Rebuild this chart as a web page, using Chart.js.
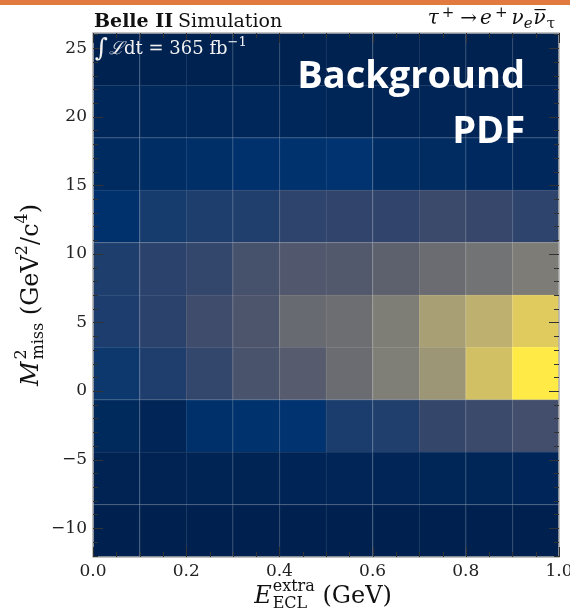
<!DOCTYPE html>
<html><head><meta charset="utf-8">
<script src="https://cdn.jsdelivr.net/npm/chart.js@4"></script>
<style>html,body{margin:0;padding:0;background:#fff;} canvas{display:block}</style>
</head><body><canvas id="c" width="570" height="611"></canvas>
<script>
// ---- data ----
const xBinEdges = [0.0, 0.1, 0.2, 0.3, 0.4, 0.5, 0.6, 0.7, 0.8, 0.9, 1.0];
const yBinEdges = [-12.1, -8.28, -4.46, -0.64, 3.18, 7.0, 10.82, 14.64, 18.46, 22.28, 26.1];
const xTickValues = [0.0, 0.2, 0.4, 0.6, 0.8, 1.0];
const yTickValues = [-10, -5, 0, 5, 10, 15, 20, 25];
// normalised background density, one array per M2miss bin (bottom to top), one value per E_ECL bin
const row0 = [0.005, 0.005, 0.006, 0.006, 0.006, 0.007, 0.007, 0.008, 0.008, 0.008];
const row1 = [0.020, 0.020, 0.022, 0.024, 0.025, 0.028, 0.030, 0.034, 0.036, 0.038];
const row2 = [0.050, 0.030, 0.095, 0.105, 0.110, 0.164, 0.173, 0.214, 0.230, 0.256];
const row3 = [0.135, 0.171, 0.210, 0.285, 0.330, 0.418, 0.510, 0.630, 0.825, 1.000];
const row4 = [0.165, 0.193, 0.244, 0.295, 0.410, 0.430, 0.505, 0.675, 0.755, 0.870];
const row5 = [0.170, 0.195, 0.210, 0.270, 0.310, 0.315, 0.360, 0.420, 0.455, 0.500];
const row6 = [0.100, 0.154, 0.170, 0.175, 0.200, 0.206, 0.206, 0.230, 0.216, 0.200];
const row7 = [0.062, 0.075, 0.088, 0.100, 0.105, 0.110, 0.075, 0.068, 0.059, 0.049];
const row8 = [0.040, 0.045, 0.042, 0.040, 0.042, 0.035, 0.030, 0.030, 0.028, 0.025];
const row9 = [0.012, 0.012, 0.012, 0.012, 0.012, 0.012, 0.010, 0.010, 0.010, 0.010];
const rows = [row0, row1, row2, row3, row4, row5, row6, row7, row8, row9];
const xBinLabels = xBinEdges.slice(0, -1).map((e, i) => e.toFixed(1) + '-' + xBinEdges[i + 1].toFixed(1));

// ---- colour map (cividis) ----
const cividisStops = ['#00204D','#00336F','#39486B','#575C6D','#707173','#8A8779','#A69D75','#C4B56C','#E4CF5B','#FFEA46'];
function hex2rgb(h){ return [parseInt(h.slice(1,3),16), parseInt(h.slice(3,5),16), parseInt(h.slice(5,7),16)]; }
function cmapRGB(v){
  v = Math.max(0, Math.min(1, v));
  const t = v * (cividisStops.length - 1);
  const i = Math.min(cividisStops.length - 2, Math.floor(t));
  const f = t - i;
  const a = hex2rgb(cividisStops[i]), b = hex2rgb(cividisStops[i + 1]);
  return a.map((c, k) => Math.round(c + (b[k] - c) * f));
}
function rgbStr(c){ return 'rgb(' + c.join(',') + ')'; }
function cmap(v){ return rgbStr(cmapRGB(v)); }
function edge(v){ return rgbStr(cmapRGB(v).map(c => Math.round(c + (255 - c) * 0.12))); }

const datasets = rows.map((vals, r) => ({
  label: 'M2 bin ' + r,
  data: vals.map(() => [yBinEdges[r], yBinEdges[r + 1]]),
  backgroundColor: vals.map(cmap),
  borderColor: vals.map(edge),
  borderWidth: {top: 1, left: 1, right: 0, bottom: 0},
  borderSkipped: false,
  grouped: false,
  barPercentage: 1,
  categoryPercentage: 1,
  xAxisID: 'x',
  yAxisID: 'y'
}));

const SERIF = '"DejaVu Serif", serif';

function drawScript(ctx, parts, x, y, align) {
  let w = 0;
  const widths = parts.map(p => {
    ctx.font = (p.style || '') + ' ' + p.size + 'px ' + SERIF;
    const m = ctx.measureText(p.t).width + (p.gap || 0);
    w += m; return m;
  });
  let cx = align === 'center' ? x - w / 2 : (align === 'right' ? x - w : x);
  parts.forEach((p, i) => {
    ctx.font = (p.style || '') + ' ' + p.size + 'px ' + SERIF;
    ctx.fillText(p.t, cx, y + (p.dy || 0));
    if (p.overline) {
      const ow = ctx.measureText(p.t).width;
      ctx.fillRect(cx + 1, y - p.size * 0.75, ow - 1, 1.2);
    }
    cx += widths[i];
  });
  return w;
}

const decor = {
  id: 'decor',
  afterDatasetsDraw(chart) {
    const ctx = chart.ctx;
    const {left, right, top, bottom} = chart.chartArea;
    const xs = chart.scales.xv, ys = chart.scales.y;
    ctx.save();
    ctx.fillStyle = '#E07A3E';
    ctx.fillRect(0, 0, chart.width, 5);
    ctx.strokeStyle = '#AFAFAF';
    ctx.lineWidth = 1.5;
    ctx.strokeRect(left, top, right - left, bottom - top);
    ctx.strokeStyle = '#333';
    ctx.lineWidth = 1;
    for (let k = 0; k <= 20; k++) {
      const v = k * 0.05;
      const px = Math.round(xs.getPixelForValue(v)) + 0.5;
      const len = (k % 4 === 0) ? 10 : 5;
      ctx.beginPath();
      ctx.moveTo(px, bottom); ctx.lineTo(px, bottom - len);
      ctx.moveTo(px, top); ctx.lineTo(px, top + len);
      ctx.stroke();
    }
    for (let v = -12; v <= 26; v++) {
      const py = Math.round(ys.getPixelForValue(v)) + 0.5;
      const len = (v % 5 === 0) ? 10 : 5;
      ctx.beginPath();
      ctx.moveTo(left, py); ctx.lineTo(left + len, py);
      ctx.moveTo(right, py); ctx.lineTo(right - len, py);
      ctx.stroke();
    }
    ctx.fillStyle = '#111';
    ctx.textBaseline = 'alphabetic';
    drawScript(ctx, [
      {t: 'Belle II', size: 19, style: 'bold', gap: 5},
      {t: 'Simulation', size: 19}
    ], left + 1, 27, 'left');
    drawScript(ctx, [
      {t: 'τ', size: 20, style: 'italic', gap: 3},
      {t: '+', size: 15, dy: -7, gap: 6},
      {t: '→', size: 20, gap: 3},
      {t: 'e', size: 20, style: 'italic', gap: 3},
      {t: '+', size: 15, dy: -7, gap: 4},
      {t: 'ν', size: 20, style: 'italic'},
      {t: 'e', size: 15, style: 'italic', dy: 4, gap: 1},
      {t: 'ν', size: 20, style: 'italic', overline: true, gap: 1},
      {t: 'τ', size: 15, dy: 4}
    ], right - 4, 24, 'right');
    ctx.fillStyle = '#F2F2F2';
    drawScript(ctx, [
      {t: '∫', size: 25, dy: 2, gap: 1},
      {t: 'ℒ', size: 18, style: 'italic'},
      {t: 'dt = 365 fb', size: 18},
      {t: '−1', size: 13, dy: -8}
    ], left + 2, 54, 'left');
    ctx.fillStyle = '#FFFFFF';
    ctx.textAlign = 'right';
    ctx.font = 'bold 38px "Open Sans", sans-serif';
    ctx.fillText('Background', 525, 88);
    ctx.fillText('PDF', 525, 143);
    ctx.textAlign = 'left';
    // x axis title
    ctx.fillStyle = '#111';
    const xc = (left + right) / 2;
    ctx.font = 'italic 24px ' + SERIF;
    const wE = ctx.measureText('E').width;
    ctx.font = '16px ' + SERIF;
    const wSup = ctx.measureText('extra').width;
    ctx.font = '24px ' + SERIF;
    const wRest = ctx.measureText(' (GeV)').width;
    const total = wE + 1 + wSup + wRest;
    let cx = xc - total / 2 - 3;
    const by = 603;
    ctx.font = 'italic 24px ' + SERIF; ctx.fillText('E', cx, by); cx += wE + 1;
    ctx.font = '16px ' + SERIF; ctx.fillText('extra', cx, by - 12); ctx.fillText('ECL', cx, by + 5); cx += wSup;
    ctx.font = '24px ' + SERIF; ctx.fillText(' (GeV)', cx, by);
    // y axis title
    ctx.save();
    ctx.translate(38, (top + bottom) / 2);
    ctx.rotate(-Math.PI / 2);
    ctx.font = 'italic 24px ' + SERIF;
    const wM = ctx.measureText('M').width;
    ctx.font = '16px ' + SERIF;
    const wMiss = ctx.measureText('miss').width;
    ctx.font = '24px ' + SERIF;
    const wA = ctx.measureText(' (GeV').width;
    ctx.font = '16px ' + SERIF;
    const w2 = ctx.measureText('2').width;
    ctx.font = '24px ' + SERIF;
    const wB = ctx.measureText('/c').width;
    ctx.font = '16px ' + SERIF;
    const w4 = ctx.measureText('4').width;
    ctx.font = '24px ' + SERIF;
    const wC = ctx.measureText(')').width;
    const tot = wM + 2 + wMiss + wA + w2 + wB + w4 + wC;
    let ry = -tot / 2;
    ctx.font = 'italic 24px ' + SERIF; ctx.fillText('M', ry, 0); ry += wM + 2;
    ctx.font = '16px ' + SERIF; ctx.fillText('2', ry, -12); ctx.fillText('miss', ry, 5); ry += wMiss;
    ctx.font = '24px ' + SERIF; ctx.fillText(' (GeV', ry, 0); ry += wA;
    ctx.font = '16px ' + SERIF; ctx.fillText('2', ry, -11); ry += w2;
    ctx.font = '24px ' + SERIF; ctx.fillText('/c', ry, 0); ry += wB;
    ctx.font = '16px ' + SERIF; ctx.fillText('4', ry, -11); ry += w4;
    ctx.font = '24px ' + SERIF; ctx.fillText(')', ry, 0);
    ctx.restore();
    ctx.restore();
  }
};

new Chart(document.getElementById('c'), {
  type: 'bar',
  data: {labels: xBinLabels, datasets},
  options: {
    responsive: false,
    animation: false,
    devicePixelRatio: 1,
    layout: {padding: {top: 33, right: 11, left: 0, bottom: 0}},
    plugins: {legend: {display: false}, tooltip: {enabled: false}, title: {display: false}},
    scales: {
      x: {type: 'category', display: false, offset: true, grid: {display: false}},
      xv: {
        type: 'linear', position: 'bottom', min: 0, max: 1, offset: false,
        afterBuildTicks: s => { s.ticks = xTickValues.map(v => ({value: v})); },
        afterFit: s => { s.height = 54; s.paddingLeft = 0; s.paddingRight = 0; },
        grid: {display: false, drawTicks: false, offset: false}, border: {display: false},
        ticks: {callback: v => Number(v).toFixed(1), font: {family: 'DejaVu Serif', size: 17}, color: '#222', padding: 4, maxRotation: 0, autoSkip: false}
      },
      y: {
        type: 'linear', min: yBinEdges[0], max: yBinEdges[yBinEdges.length - 1],
        afterBuildTicks: s => { s.ticks = yTickValues.map(v => ({value: v})); },
        afterFit: s => { s.width = 93; },
        grid: {display: false, drawTicks: false}, border: {display: false},
        ticks: {callback: v => (v < 0 ? '−' + Math.abs(v) : String(v)), font: {family: 'DejaVu Serif', size: 17}, color: '#222', padding: 6, autoSkip: false}
      }
    }
  },
  plugins: [decor]
});
</script></body></html>
